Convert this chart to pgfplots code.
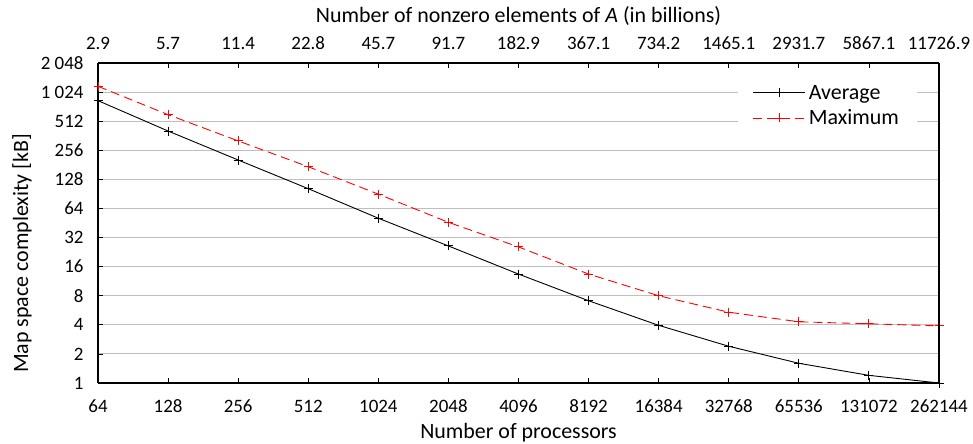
\documentclass[border=0pt]{standalone}
\usepackage{pgfplots}
\pgfplotsset{compat=1.18}
\usepackage{fontspec}
\setmainfont{Carlito}
\begin{document}
\begin{tikzpicture}
\pgfplotsset{every axis/.append style={font=\fontsize{19}{23}\selectfont}}
\begin{axis}[
  scale only axis, width=841bp, height=320bp,
  xmode=log, ymode=log, log basis x=2, log basis y=2,
  xmin=64, xmax=262144, ymin=1, ymax=2048,
  xtick={64,128,256,512,1024,2048,4096,8192,16384,32768,65536,131072,262144},
  xticklabels={64,128,256,512,1024,2048,4096,8192,16384,32768,65536,131072,262144},
  ytick={1,2,4,8,16,32,64,128,256,512,1024,2048},
  yticklabels={1,2,4,8,16,32,64,128,256,512,{1 024},{2 048}},
  /pgf/number format/assume math mode=true,
  xticklabel style={anchor=base, yshift=-29bp},
  yticklabel style={anchor=east, xshift=-11bp},
  axis x line*=bottom, axis y line*=left,
  axis line style={line width=1.2bp, -},
  ymajorgrids, grid style={color=black!25, line width=0.9bp},
  major tick length=5bp,
  tick style={black, line width=0.8bp},
  xtick pos=bottom, ytick pos=left,
  xlabel={Number of processors},
  ylabel={Map space complexity [kB]},
  xlabel style={at={(rel axis cs:0.5,0)}, anchor=base, yshift=-55bp, font=\fontsize{22}{26}\selectfont},
  ylabel style={at={(rel axis cs:0,0.405)}, anchor=center, yshift=76bp, font=\fontsize{22}{26}\selectfont},
  legend style={at={(rel axis cs:0.974,0.947)}, anchor=north east, draw=none, fill=white,
    font=\fontsize{22}{26}\selectfont, row sep=3bp, inner xsep=15bp, inner ysep=2bp,
    nodes={inner sep=3bp}},
  legend cell align=left,
  legend image code/.code={\draw[mark repeat=2,mark phase=2] plot coordinates {(0bp,0bp) (26bp,0bp) (52bp,0bp)};},
]
\coordinate (bl) at (rel axis cs:0,0);
\coordinate (tr) at (rel axis cs:1,1);
\addplot[black, line width=0.9bp, mark=+, mark size=4.5bp, mark options={solid, line width=0.9bp}] coordinates {
(64,835) (128,405) (256,203) (512,102.5) (1024,50.7) (2048,26.2) (4096,13.4)
(8192,7.1) (16384,3.95) (32768,2.4) (65536,1.6) (131072,1.2) (262144,1.0)};
\addlegendentry{Average}
\addplot[red, line width=0.9bp, dashed, dash pattern=on 9bp off 5bp, mark=+, mark size=4.5bp, mark options={solid, line width=0.9bp}] coordinates {
(64,1176) (128,598) (256,320) (512,173) (1024,90) (2048,46) (4096,25.6)
(8192,13.4) (16384,8.0) (32768,5.4) (65536,4.3) (131072,4.1) (262144,3.9)};
\addlegendentry{Maximum}
\end{axis}
\begin{axis}[
  scale only axis, width=841bp, height=320bp,
  xmode=log, log basis x=2,
  xmin=64, xmax=262144, ymin=1, ymax=2048, ymode=log, log basis y=2,
  axis x line*=top, axis y line*=right,
  ytick=\empty,
  axis line style={line width=1.2bp, -},
  xtick={64,128,256,512,1024,2048,4096,8192,16384,32768,65536,131072,262144},
  xticklabels={2.9,5.7,11.4,22.8,45.7,91.7,182.9,367.1,734.2,1465.1,2931.7,5867.1,11726.9},
  /pgf/number format/assume math mode=true,
  xticklabel style={anchor=base, yshift=13bp},
  major tick length=5bp,
  tick style={black, line width=0.8bp},
  xlabel={Number of nonzero elements of \textit{A} (in billions)},
  xlabel style={at={(rel axis cs:0.5,1)}, anchor=base, yshift=40bp, font=\fontsize{22}{26}\selectfont},
]
\addplot[draw=none] coordinates {(64,1)};
\end{axis}
\pgfresetboundingbox
\path ([xshift=-98bp,yshift=-61bp]bl) rectangle ([xshift=34bp,yshift=63bp]tr);
\end{tikzpicture}
\end{document}
